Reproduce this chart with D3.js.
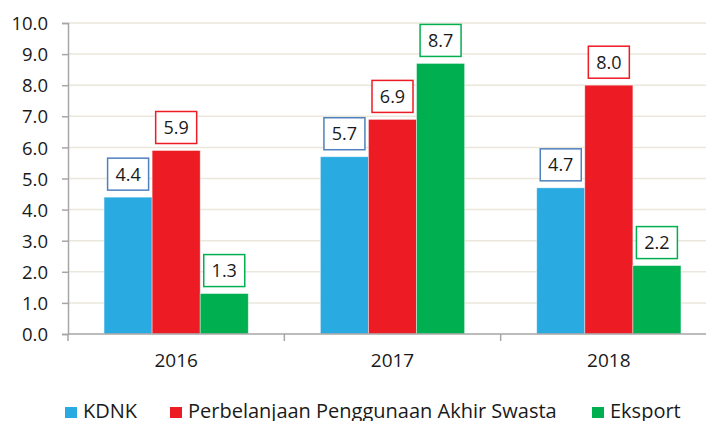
<!DOCTYPE html>
<html>
<head>
<meta charset="utf-8">
<script src="https://cdn.jsdelivr.net/npm/d3@7"></script>
<style>
  body { margin: 0; background: #fff; }
  svg text { font-family: "Open Sans", "Noto Sans", sans-serif; fill: #1a1a1a; }
</style>
</head>
<body>
<div class="chart"></div>
<script>
var years = ['2016', '2017', '2018'];
var seriesNames = ['KDNK', 'Perbelanjaan Penggunaan Akhir Swasta', 'Eksport'];
var kdnk = [4.4, 5.7, 4.7];
var swasta = [5.9, 6.9, 8.0];
var eksport = [1.3, 8.7, 2.2];
var yTicks = [0, 1, 2, 3, 4, 5, 6, 7, 8, 9, 10];

var colors = ['#29abe2', '#ed1c24', '#00b050'];
var boxColors = ['#4f81bd', '#ed1c24', '#00b050'];

var width = 706, height = 421;
var plotLeft = 68, plotTop = 23, plotBottom = 334, plotRight = 717;

var svg = d3.select('.chart')
	.append('svg')
	.attr('width', width)
	.attr('height', height);

var x = d3.scaleBand().domain(years).range([plotLeft, plotRight]);
var xInner = d3.scaleBand().domain(d3.range(3)).range([0, x.bandwidth()]).paddingOuter(0.75);
var y = d3.scaleLinear().domain([0, 10]).range([plotBottom, plotTop]);

// gridlines
svg.append('g')
	.selectAll('line')
	.data(yTicks.slice(1))
	.enter().append('line')
	.attr('x1', plotLeft).attr('x2', width)
	.attr('y1', function(d) { return y(d); })
	.attr('y2', function(d) { return y(d); })
	.attr('stroke', '#ebe7dc')
	.attr('stroke-width', 1.5);

// y axis
var yAxis = svg.append('g')
	.attr('transform', 'translate(' + plotLeft + ',0)')
	.call(d3.axisLeft(y).tickValues(yTicks).tickFormat(d3.format('.1f')).tickSize(6).tickPadding(14));
yAxis.select('.domain').attr('stroke', '#a6a6a6').attr('stroke-width', 1.5);
yAxis.selectAll('.tick line').attr('stroke', '#a6a6a6').attr('stroke-width', 1.5);
yAxis.selectAll('text').style('font-size', '18.5px').attr('dy', '0.36em');

var table = years.map(function(yr, i) {
	return { year: yr, values: [kdnk[i], swasta[i], eksport[i]] };
});

// bars
var groups = svg.append('g')
	.selectAll('g')
	.data(table)
	.enter().append('g')
	.attr('transform', function(d) { return 'translate(' + x(d.year) + ',0)'; });

groups.selectAll('rect')
	.data(function(d) { return d.values; })
	.enter().append('rect')
	.attr('x', function(d, i) { return xInner(i); })
	.attr('width', xInner.bandwidth())
	.attr('y', function(d) { return y(d); })
	.attr('height', function(d) { return y(0) - y(d); })
	.attr('fill', function(d, i) { return colors[i]; })
	.attr('stroke', 'rgba(255,255,255,0.5)')
	.attr('stroke-width', 0.8);

// value labels
var boxW = 41, boxH = 32;
var labels = groups.selectAll('.lab')
	.data(function(d) { return d.values; })
	.enter().append('g')
	.attr('class', 'lab')
	.attr('transform', function(d, i) {
		return 'translate(' + (xInner(i) + xInner.bandwidth() / 2) + ',' + (y(d) - 7 - boxH / 2) + ')';
	});
labels.append('rect')
	.attr('x', -boxW / 2).attr('y', -boxH / 2)
	.attr('width', boxW).attr('height', boxH)
	.attr('fill', '#fff')
	.attr('stroke', function(d, i) { return boxColors[i]; })
	.attr('stroke-width', 1.5);
labels.append('text')
	.attr('text-anchor', 'middle')
	.attr('dy', '0.36em')
	.style('font-size', '18px')
	.text(function(d) { return d.toFixed(1); });

// x axis
var xAxis = svg.append('g')
	.attr('transform', 'translate(0,' + plotBottom + ')')
	.call(d3.axisBottom(x).tickSize(0).tickPadding(20));
xAxis.select('.domain').remove();
svg.append('line')
	.attr('x1', plotLeft).attr('x2', width)
	.attr('y1', plotBottom).attr('y2', plotBottom)
	.attr('stroke', '#a6a6a6').attr('stroke-width', 1.5);
svg.append('g')
	.selectAll('line')
	.data([plotLeft, plotLeft + x.step(), plotLeft + 2 * x.step()])
	.enter().append('line')
	.attr('x1', function(d) { return d; }).attr('x2', function(d) { return d; })
	.attr('y1', plotBottom).attr('y2', plotBottom + 7)
	.attr('stroke', '#a6a6a6').attr('stroke-width', 1.5);
xAxis.selectAll('text').style('font-size', '19px');

// legend
var legendX = [65, 170, 592];
var legend = svg.append('g')
	.selectAll('g')
	.data(seriesNames)
	.enter().append('g')
	.attr('transform', function(d, i) { return 'translate(' + legendX[i] + ',418)'; });
legend.append('rect')
	.attr('x', 0).attr('y', -11)
	.attr('width', 12).attr('height', 11)
	.attr('fill', function(d, i) { return colors[i]; });
legend.append('text')
	.attr('x', 18)
	.style('font-size', '20px')
	.text(function(d) { return d; });
</script>
</body>
</html>
